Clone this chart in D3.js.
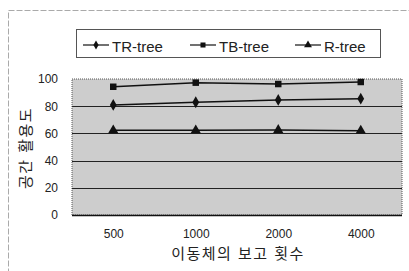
<!DOCTYPE html>
<html>
<head>
<meta charset="utf-8">
<script src="https://cdn.jsdelivr.net/npm/d3@7"></script>
<style>
	body { margin: 0; background: #fff; }
	text { font-family: "Liberation Sans", "Noto Sans CJK KR", sans-serif; fill: #222; }
</style>
</head>
<body>
<svg id="chart" width="409" height="271"></svg>
<script>

// Data
// ==============================================

var categories = ["500", "1000", "2000", "4000"];
var trTree = [80.9, 82.9, 84.6, 85.5];
var tbTree = [94.3, 97.3, 96.3, 97.8];
var rTree = [62.3, 62.3, 62.5, 62];
var yTicks = [0, 20, 40, 60, 80, 100];

var series = [
	{ name: "TR-tree", values: trTree, shape: d3.symbolDiamond, size: 40 },
	{ name: "TB-tree", values: tbTree, shape: d3.symbolSquare, size: 42 },
	{ name: "R-tree", values: rTree, shape: d3.symbolTriangle, size: 45 }
];

var svg = d3.select("#chart");

// outer frame
svg.append("rect")
	.attr("x", 8.5).attr("y", 10.5)
	.attr("width", 420).attr("height", 280)
	.attr("fill", "none")
	.attr("stroke", "#aaa")
	.attr("stroke-dasharray", "6,2");

var margin = { left: 72, right: 7, top: 79, bottom: 56 };
var width = 409 - margin.left - margin.right,
	height = 271 - margin.top - margin.bottom;

var g = svg.append("g")
	.attr("transform", "translate(" + margin.left + "," + margin.top + ")");

var xScale = d3.scalePoint().domain(categories).range([0, width]).padding(0.5);
var yScale = d3.scaleLinear().domain([0, 100]).range([height, 0]);

// Plot area
// ==============================================

g.append("rect")
	.attr("width", width).attr("height", height)
	.attr("fill", "#cdcdcd")
	.attr("stroke", "#555")
	.attr("stroke-dasharray", "1,1");

g.selectAll("line.grid")
	.data(yTicks.filter(function(d){ return d > 0 && d < 100; }))
	.enter().append("line")
	.attr("class", "grid")
	.attr("x1", 0).attr("x2", width)
	.attr("y1", function(d){ return Math.round(yScale(d)) + 0.5; })
	.attr("y2", function(d){ return Math.round(yScale(d)) + 0.5; })
	.attr("stroke", "#222");

g.append("line")
	.attr("x1", 0).attr("x2", width)
	.attr("y1", height + 0.5).attr("y2", height + 0.5)
	.attr("stroke", "#111").attr("stroke-width", 1.5);

// Axes
// ==============================================

var yAxis = g.append("g")
	.call(d3.axisLeft(yScale).tickValues(yTicks).tickSize(0).tickPadding(14));
yAxis.select(".domain").remove();
yAxis.selectAll("text").style("font-size", "12px").attr("fill", "#333");

var xAxis = g.append("g")
	.attr("transform", "translate(0," + height + ")")
	.call(d3.axisBottom(xScale).tickSize(0).tickPadding(14));
xAxis.select(".domain").remove();
xAxis.selectAll("text").style("font-size", "12px").attr("fill", "#333");

svg.append("text")
	.attr("x", margin.left + width / 2 + 1)
	.attr("y", 259)
	.attr("text-anchor", "middle")
	.style("font-size", "15px")
	.style("letter-spacing", "1.5px")
	.text("이동체의 보고 횟수");

svg.append("text")
	.attr("transform", "translate(31,148) rotate(-90)")
	.attr("text-anchor", "middle")
	.style("font-size", "15px")
	.style("letter-spacing", "1.5px")
	.text("공간 활용도");

// Lines
// ==============================================

var line = d3.line()
	.x(function(d, i){ return xScale(categories[i]); })
	.y(function(d){ return yScale(d); });

series.forEach(function(s){
	g.append("path")
		.datum(s.values)
		.attr("d", line)
		.attr("fill", "none")
		.attr("stroke", "#111")
		.attr("stroke-width", 1.5);

	g.selectAll(null)
		.data(s.values)
		.enter().append("path")
		.attr("transform", function(d, i){
			return "translate(" + xScale(categories[i]) + "," + yScale(d) + ")";
		})
		.attr("d", d3.symbol().type(s.shape).size(s.size))
		.attr("fill", "#111");
});

// Legend
// ==============================================

var legend = svg.append("g").attr("transform", "translate(76.5,29.5)");
legend.append("rect")
	.attr("width", 304).attr("height", 28)
	.attr("fill", "#fff")
	.attr("stroke", "#555");

var legendX = [6.5, 113.5, 218.5];
series.forEach(function(s, i){
	var item = legend.append("g").attr("transform", "translate(" + legendX[i] + ",15.5)");
	item.append("line")
		.attr("x1", 0).attr("x2", 26)
		.attr("stroke", "#111").attr("stroke-width", 1.2);
	item.append("path")
		.attr("transform", "translate(13,0)")
		.attr("d", d3.symbol().type(s.shape).size(s.size * 0.6))
		.attr("fill", "#111");
	item.append("text")
		.attr("x", 29).attr("y", 6.5)
		.style("font-size", "15px")
		.text(s.name);
});

</script>
</body>
</html>
